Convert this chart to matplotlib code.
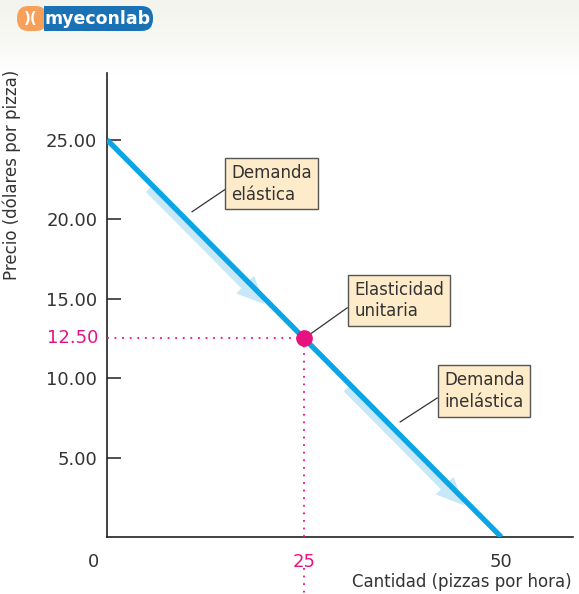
import matplotlib
matplotlib.use("Agg")
import matplotlib.pyplot as plt
from matplotlib.patches import FancyBboxPatch, Rectangle, FancyArrowPatch
from matplotlib.colors import LinearSegmentedColormap
import numpy as np

# ---- data ----
demand_q = [0, 50]
demand_p = [25.0, 0.0]
unit_q = 25
unit_p = 12.50
ytick_vals = [5, 10, 15, 20, 25]
ytick_labels = ["5.00", "10.00", "15.00", "20.00", "25.00"]
xtick_vals = [0, 25, 50]
xtick_labels = ["0", "25", "50"]
arrow1_q = [5.5, 20.6]
arrow2_q = [30.6, 45.9]
label_elastic = "Demanda\nelástica"
label_unit = "Elasticidad\nunitaria"
label_inelastic = "Demanda\ninelástica"
ylabel = "Precio (dólares por pizza)"
xlabel = "Cantidad (pizzas por hora)"

W, H = 579, 594
fig = plt.figure(figsize=(W / 100, H / 100), dpi=100)
fig.patch.set_facecolor("white")
plt.rcParams['font.family'] = ['DejaVu Sans']

TXT = "#333333"
BLUE = "#0aa5e6"
LIGHT = "#c6e8f8"
MAG = "#e8127f"
BOXFC = "#fdebc9"

# top gradient band
bg = fig.add_axes([0, 1 - 75 / H, 1, 75 / H], zorder=-5)
bg.axis("off")
cmap = LinearSegmentedColormap.from_list("band", ["#f4f4ef", "#f7f7f3", "#ffffff"])
bg.imshow(np.linspace(0, 1, 100).reshape(-1, 1), aspect="auto", cmap=cmap,
          extent=[0, 1, 0, 1], origin="upper")

# logo
fig.patches.append(FancyBboxPatch((17 / W, 1 - 31 / H), 30 / W, 25 / H,
                                  boxstyle="round,pad=0,rounding_size=0.02",
                                  transform=fig.transFigure, facecolor="#f6a05a",
                                  edgecolor="none", zorder=1))
fig.patches.append(FancyBboxPatch((44 / W, 1 - 31 / H), 109 / W, 25 / H,
                                  boxstyle="round,pad=0,rounding_size=0.02",
                                  transform=fig.transFigure, facecolor="#1a72b4",
                                  edgecolor="none", zorder=1))
fig.patches.append(Rectangle((44 / W, 1 - 31 / H), 10 / W, 25 / H, transform=fig.transFigure,
                             facecolor="#1a72b4", edgecolor="none", zorder=1))
fig.text(31 / W, 1 - 18.5 / H, ")(", color="white", fontsize=11, fontweight="bold",
         ha="center", va="center", zorder=2)
fig.text(98 / W, 1 - 19 / H, "myeconlab", color="white", fontsize=12.5, fontweight="bold",
         ha="center", va="center", zorder=2)

ax = fig.add_axes([107 / W, (H - 537) / H, (573 - 107) / W, (537 - 73) / H])
ax.patch.set_alpha(0)
ax.set_xlim(0, 59.1)
ax.set_ylim(0, 29.2)
ax.spines['top'].set_visible(False)
ax.spines['right'].set_visible(False)
for s in ("left", "bottom"):
    ax.spines[s].set_linewidth(1.2)
    ax.spines[s].set_color("#222222")

ax.set_yticks(ytick_vals)
ax.set_yticklabels(ytick_labels, fontsize=13, color=TXT)
ax.tick_params(axis="y", direction="in", length=10, width=1.1, pad=7, color="#222222")
ax.set_xticks([])

# x tick labels
x_colors = [TXT, MAG, TXT]
x_offsets = [-1.7, 0, 0]
for v, lab, c, off in zip(xtick_vals, xtick_labels, x_colors, x_offsets):
    ax.text(v + off, -1.0, lab, fontsize=13, color=c, ha="center", va="top", clip_on=False)

# 12.50 label
ax.text(-1.1, unit_p, f"{unit_p:.2f}", fontsize=13, color=MAG, ha="right", va="center",
        clip_on=False)

# dotted guides
dot = dict(color=MAG, linestyle=(0, (1, 3.2)), linewidth=1.3, zorder=3)
ax.plot([0, unit_q], [unit_p, unit_p], **dot)
ax.plot([unit_q, unit_q], [unit_p, 0], **dot)
ax.plot([unit_q, unit_q], [-1.95, -3.6], clip_on=False, **dot)

# light arrows parallel to demand line
def p_of(q):
    return np.interp(q, demand_q, demand_p)

for qa in (arrow1_q, arrow2_q):
    q0, q1 = qa
    off_q, off_p = -0.35, -0.18
    arr = FancyArrowPatch((q0 + off_q, p_of(q0) + off_p), (q1 + off_q, p_of(q1) + off_p),
                          arrowstyle="simple,head_length=2.0,head_width=1.8,tail_width=0.75",
                          mutation_scale=10, facecolor=LIGHT, edgecolor="none", zorder=2)
    ax.add_patch(arr)

# demand line
ax.plot(demand_q, demand_p, color=BLUE, linewidth=3.8, solid_capstyle="butt", zorder=4)

# unit elastic point
ax.plot([unit_q], [unit_p], marker="o", markersize=11, color=MAG, zorder=6)

# boxes with leaders
box = dict(boxstyle="square,pad=0.35", facecolor=BOXFC, edgecolor="#555555", linewidth=1.0)
labels = [
    (label_elastic, (20.87, 22.23), (10.79, 20.47), (15.3, 21.98)),
    (label_unit, (37.06, 14.89), (25.3, 12.6), (30.46, 14.42)),
    (label_inelastic, (47.84, 9.19), (37.18, 7.24), (41.88, 8.75)),
]
for txt, c, a, b in labels:
    ax.plot([a[0], b[0]], [a[1], b[1]], color="#333333", linewidth=0.9, zorder=5)
    ax.text(c[0], c[1], txt, fontsize=12, color=TXT, ha="center", va="center",
            linespacing=1.25, bbox=box, zorder=7, multialignment="left")

# axis labels
fig.text(12 / W, 1 - 70 / H, ylabel, rotation=90, fontsize=12, color=TXT,
         ha="center", va="top")
fig.text(572 / W, 1 - 582 / H, xlabel, fontsize=12, color=TXT, ha="right", va="center")

fig.savefig("out.png", dpi=100)
